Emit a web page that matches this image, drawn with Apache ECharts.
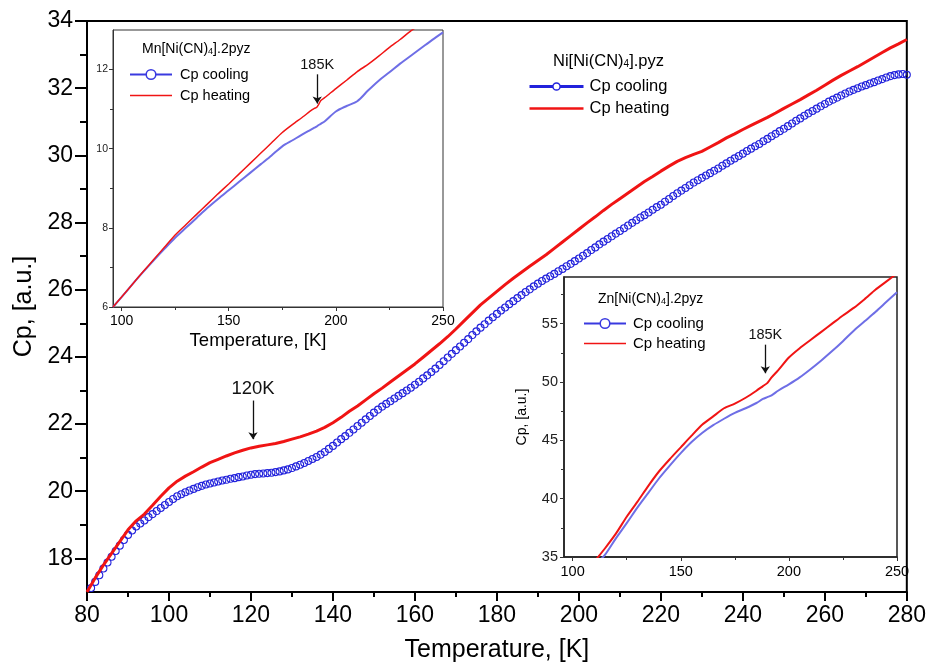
<!DOCTYPE html>
<html>
<head>
<meta charset="utf-8">
<script src="https://cdn.jsdelivr.net/npm/echarts@6/dist/echarts.min.js"></script>
<style>
  html, body { margin: 0; padding: 0; background: #fff; }
  #chart { width: 929px; height: 668px; }
</style>
</head>
<body>
<div id="chart"></div>
<script>
// ---- Ni[Ni(CN)4].pyz : main heat-capacity curves ----
// heating run, 2 K steps
const heatTemps = [80,82,84,86,88,90,92,94,96,98,100,102,104,106,108,110,112,114,116,118,120,122,124,126,128,130,132,134,136,138,140,142,144,146,148,150,152,154,156,158,160,162,164,166,168,170,172,174,176,178,180,182,184,186,188,190,192,194,196,198,200,202,204,206,208,210,212,214,216,218,220,222,224,226,228,230,232,234,236,238,240,242,244,246,248,250,252,254,256,258,260,262,264,266,268,270,272,274,276,278,280];
const mainHeating = [17.00,17.42,17.80,18.15,18.50,18.85,19.12,19.32,19.58,19.85,20.10,20.30,20.45,20.58,20.72,20.85,20.95,21.05,21.14,21.22,21.29,21.34,21.38,21.42,21.48,21.55,21.62,21.70,21.79,21.90,22.04,22.20,22.38,22.54,22.72,22.90,23.07,23.25,23.43,23.61,23.79,23.99,24.19,24.39,24.60,24.83,25.07,25.31,25.55,25.75,25.95,26.15,26.34,26.52,26.70,26.87,27.04,27.23,27.42,27.61,27.80,27.99,28.17,28.36,28.54,28.71,28.88,29.05,29.22,29.37,29.53,29.68,29.82,29.93,30.03,30.12,30.25,30.38,30.52,30.64,30.77,30.89,31.01,31.13,31.26,31.40,31.53,31.66,31.80,31.94,32.09,32.24,32.38,32.51,32.64,32.78,32.92,33.06,33.20,33.32,33.45];
// cooling run, 1 K steps
const coolTemps = [80,81,82,83,84,85,86,87,88,89,90,91,92,93,94,95,96,97,98,99,100,101,102,103,104,105,106,107,108,109,110,111,112,113,114,115,116,117,118,119,120,121,122,123,124,125,126,127,128,129,130,131,132,133,134,135,136,137,138,139,140,141,142,143,144,145,146,147,148,149,150,151,152,153,154,155,156,157,158,159,160,161,162,163,164,165,166,167,168,169,170,171,172,173,174,175,176,177,178,179,180,181,182,183,184,185,186,187,188,189,190,191,192,193,194,195,196,197,198,199,200,201,202,203,204,205,206,207,208,209,210,211,212,213,214,215,216,217,218,219,220,221,222,223,224,225,226,227,228,229,230,231,232,233,234,235,236,237,238,239,240,241,242,243,244,245,246,247,248,249,250,251,252,253,254,255,256,257,258,259,260,261,262,263,264,265,266,267,268,269,270,271,272,273,274,275,276,277,278,279,280];
const mainCooling = [16.95,17.12,17.30,17.50,17.70,17.88,18.05,18.22,18.38,18.55,18.70,18.83,18.95,19.04,19.13,19.23,19.32,19.41,19.50,19.59,19.68,19.77,19.85,19.91,19.97,20.02,20.07,20.12,20.16,20.20,20.23,20.26,20.29,20.32,20.34,20.37,20.39,20.42,20.44,20.47,20.49,20.51,20.52,20.53,20.54,20.55,20.57,20.59,20.62,20.65,20.69,20.74,20.79,20.84,20.90,20.96,21.02,21.09,21.17,21.26,21.35,21.45,21.55,21.64,21.74,21.84,21.94,22.04,22.14,22.24,22.34,22.43,22.52,22.60,22.68,22.76,22.84,22.92,23.00,23.08,23.17,23.26,23.36,23.45,23.55,23.65,23.76,23.87,23.98,24.09,24.20,24.31,24.42,24.53,24.65,24.76,24.87,24.97,25.08,25.18,25.28,25.38,25.47,25.57,25.66,25.75,25.84,25.93,26.01,26.10,26.18,26.26,26.33,26.40,26.47,26.55,26.62,26.70,26.77,26.85,26.93,27.01,27.09,27.18,27.26,27.35,27.43,27.51,27.59,27.67,27.75,27.83,27.91,27.99,28.07,28.15,28.22,28.30,28.38,28.46,28.53,28.62,28.70,28.79,28.87,28.95,29.03,29.11,29.19,29.26,29.33,29.40,29.47,29.54,29.61,29.69,29.76,29.84,29.91,29.98,30.05,30.13,30.20,30.27,30.34,30.42,30.49,30.57,30.64,30.72,30.79,30.87,30.95,31.03,31.10,31.18,31.25,31.32,31.39,31.46,31.53,31.60,31.66,31.72,31.78,31.84,31.90,31.95,32.00,32.05,32.09,32.14,32.18,32.23,32.27,32.32,32.36,32.39,32.41,32.42,32.40];
const mainYLabels = [18,20,22,24,26,28,30,32,34];
const mainYMinor = [19,21,23,25,27,29,31,33];

// ---- Mn[Ni(CN)4].2pyz inset ----
const mnTemps = [96,100,105,110,115,120,125,130,135,140,145,150,155,160,165,170,175,180,185,188,190,191,192,193,195,200,205,210,215,220,225,230,235,240,245,250];
const mnHeating = [6.00,6.25,6.57,6.89,7.20,7.51,7.82,8.08,8.34,8.60,8.86,9.11,9.37,9.63,9.89,10.15,10.41,10.62,10.82,10.95,11.02,11.04,11.12,11.22,11.30,11.52,11.73,11.95,12.13,12.34,12.56,12.76,12.98,13.15,13.35,13.55];
const mnCooling = [6.00,6.25,6.57,6.88,7.18,7.47,7.75,8.00,8.25,8.50,8.73,8.95,9.17,9.39,9.61,9.83,10.06,10.22,10.38,10.47,10.53,10.56,10.60,10.63,10.70,10.94,11.08,11.20,11.47,11.72,11.93,12.15,12.35,12.55,12.75,12.94];
const insetXLabels = [100,150,200,250];
const insetXMinor = [125,175,225];
const mnYLabels = [6,8,10,12];
const mnYMinor = [7,9,11];

// ---- Zn[Ni(CN)4].2pyz inset ----
const znTemps = [110,112,115,120,125,130,135,140,145,150,155,160,165,170,175,180,185,188,190,192,195,200,205,210,215,220,225,230,235,240,245,250];
const znHeating = [34.6,35.05,35.75,37.0,38.45,39.75,41.1,42.35,43.4,44.4,45.4,46.35,47.05,47.75,48.15,48.65,49.25,49.65,49.9,50.4,51.0,52.1,52.9,53.6,54.3,55.0,55.7,56.35,57.1,57.9,58.6,59.3];
const znCooling = [34.2,34.6,35.2,36.6,37.9,39.25,40.5,41.75,42.85,43.9,44.85,45.65,46.3,46.85,47.35,47.75,48.2,48.55,48.7,48.85,49.25,49.8,50.4,51.1,51.85,52.65,53.5,54.4,55.2,56.0,56.85,57.7];
const znYLabels = [35,40,45,50,55];
const znYMinor = [37.5,42.5,47.5,52.5,57.5];

const pairs = (xs, ys) => xs.map((x, i) => [x, ys[i]]);

const FONT = 'Liberation Sans, Arial, sans-serif';
const RED = '#f01414';
const BLUE = '#2222dc';
const BLUE_LIGHT = '#6e6ee6';
const BLUE_LEGEND = '#3a3ae0';

function arrowMark(x, yFrom, yTo, text, size) {
  return {
    silent: true,
    animation: false,
    symbol: ['none', 'arrow'],
    symbolSize: 7,
    lineStyle: { color: '#111', width: 1.3, type: 'solid' },
    label: { show: true, position: 'start', formatter: text, fontSize: size, color: '#111', fontFamily: FONT, distance: 2 },
    data: [[{ coord: [x, yFrom], symbol: 'none' }, { coord: [x, yTo], symbol: 'arrow', symbolSize: 7 }]]
  };
}

function valueAxis(extra) {
  return Object.assign({
    type: 'value',
    splitLine: { show: false },
    axisLine: { show: true, onZero: false, lineStyle: { color: '#000', width: 2 } },
    axisTick: { show: true, inside: false, lineStyle: { color: '#000', width: 2 } },
    axisLabel: { color: '#000', fontFamily: FONT }
  }, extra);
}

function richTitle(left, top, size, body) {
  const sub = Math.round(size * 0.62);
  return {
    text: body, left: left, top: top, z: 10,
    textStyle: { rich: {
      a: { fontSize: size, fontFamily: FONT, fontWeight: 'normal', color: '#000', lineHeight: size + 3, verticalAlign: 'bottom' },
      s: { fontSize: sub, fontFamily: FONT, fontWeight: 'normal', color: '#000', lineHeight: sub, verticalAlign: 'bottom' } } }
  };
}

const insetLine = { color: '#333', width: 1 };
const legendName = n => n.indexOf('cooling') >= 0 ? 'Cp cooling' : 'Cp heating';
const openCircle = color => ({ color: '#fff', borderColor: color, borderWidth: 1.5 });

const option = {
  backgroundColor: '#fff',
  animation: false,
  title: [
    richTitle(548, 45, 16.5, '{a|Ni[Ni(CN)}{s|4}{a|].pyz}'),
    richTitle(137, 34, 14, '{a|Mn[Ni(CN)}{s|4}{a|].2pyz}'),
    richTitle(593, 284, 14, '{a|Zn[Ni(CN)}{s|4}{a|].2pyz}')
  ],
  legend: [
    {
      orient: 'vertical', left: 523, top: 73, itemWidth: 54, itemHeight: 9, itemGap: 5,
      textStyle: { fontSize: 16.5, fontFamily: FONT, color: '#000', padding: [0, 0, 0, 1] },
      data: [
        { name: 'Cp cooling', lineStyle: { color: BLUE, width: 3, opacity: 1 }, itemStyle: openCircle(BLUE) },
        { name: 'Cp heating', icon: 'path://M0,0L60,0L60,3L0,3Z' }
      ]
    },
    {
      orient: 'vertical', left: 124, top: 62, itemWidth: 42, itemHeight: 12, itemGap: 6, z: 10,
      textStyle: { fontSize: 14.5, fontFamily: FONT, color: '#000', padding: [0, 0, 0, 3] },
      formatter: legendName,
      data: [
        { name: 'Mn cooling', itemStyle: openCircle(BLUE_LEGEND), lineStyle: { color: BLUE_LEGEND, width: 2 } },
        { name: 'Mn heating', icon: 'path://M0,0L60,0L60,2L0,2Z' }
      ]
    },
    {
      orient: 'vertical', left: 578, top: 311, itemWidth: 42, itemHeight: 12, itemGap: 5, z: 10,
      textStyle: { fontSize: 15, fontFamily: FONT, color: '#000', padding: [0, 0, 0, 2] },
      formatter: legendName,
      data: [
        { name: 'Zn cooling', itemStyle: openCircle(BLUE_LEGEND), lineStyle: { color: BLUE_LEGEND, width: 2 } },
        { name: 'Zn heating', icon: 'path://M0,0L60,0L60,2L0,2Z' }
      ]
    }
  ],
  grid: [
    { left: 87, top: 21, right: 19, bottom: 72, show: true, borderColor: '#000', borderWidth: 2, backgroundColor: '#fff' },
    { left: 113, top: 30, width: 330, height: 277, show: true, borderColor: '#333', borderWidth: 1, backgroundColor: '#fff', z: 5 },
    { left: 564, top: 277, width: 333, height: 280, show: true, borderColor: '#222', borderWidth: 1.5, backgroundColor: '#fff', z: 5 }
  ],
  xAxis: [
    valueAxis({
      gridIndex: 0, min: 80, max: 280, interval: 20, position: 'bottom',
      axisTick: { show: true, length: 9, lineStyle: { color: '#000', width: 2 } },
      minorTick: { show: true, splitNumber: 2, length: 5, lineStyle: { color: '#000', width: 2 } },
      axisLabel: { fontSize: 23, color: '#000', fontFamily: FONT, margin: 12 },
      name: 'Temperature, [K]', nameLocation: 'middle', nameGap: 46,
      nameTextStyle: { fontSize: 25, fontFamily: FONT, color: '#000' }
    }),
    // Mn inset
    valueAxis({
      gridIndex: 1, min: 96, max: 250, z: 6, position: 'bottom',
      axisLine: { show: true, lineStyle: insetLine },
      axisTick: { show: true, length: 4, customValues: insetXLabels, lineStyle: insetLine },
      axisLabel: { fontSize: 14, color: '#000', fontFamily: FONT, margin: 7, customValues: insetXLabels },
      name: 'Temperature, [K]', nameLocation: 'middle', nameGap: 24,
      nameTextStyle: { fontSize: 18.5, fontFamily: FONT, color: '#000', padding: [0, 40, 0, 0] }
    }),
    valueAxis({
      gridIndex: 1, min: 96, max: 250, z: 6, position: 'bottom',
      axisLine: { show: false },
      axisTick: { show: true, length: 3, customValues: insetXMinor, lineStyle: insetLine },
      axisLabel: { show: false }
    }),
    // Zn inset
    valueAxis({
      gridIndex: 2, min: 96, max: 250, z: 6, position: 'bottom',
      axisLine: { show: true, lineStyle: { color: '#222', width: 1.5 } },
      axisTick: { show: true, length: 4, customValues: insetXLabels, lineStyle: insetLine },
      axisLabel: { fontSize: 14.5, color: '#000', fontFamily: FONT, margin: 7, customValues: insetXLabels }
    }),
    valueAxis({
      gridIndex: 2, min: 96, max: 250, z: 6, position: 'bottom',
      axisLine: { show: false },
      axisTick: { show: true, length: 3, customValues: insetXMinor, lineStyle: insetLine },
      axisLabel: { show: false }
    })
  ],
  yAxis: [
    valueAxis({
      gridIndex: 0, min: 17, max: 34, position: 'left',
      axisTick: { show: true, length: 12, customValues: mainYLabels, lineStyle: { color: '#000', width: 2 } },
      axisLabel: { fontSize: 23, color: '#000', fontFamily: FONT, margin: 14, customValues: mainYLabels },
      name: 'Cp, [a.u.]', nameLocation: 'middle', nameGap: 50, nameRotate: 90,
      nameTextStyle: { fontSize: 25, fontFamily: FONT, color: '#000' }
    }),
    valueAxis({
      gridIndex: 0, min: 17, max: 34, position: 'left',
      axisLine: { show: false },
      axisTick: { show: true, length: 7, customValues: mainYMinor, lineStyle: { color: '#000', width: 2 } },
      axisLabel: { show: false }
    }),
    // Mn inset
    valueAxis({
      gridIndex: 1, min: 6, max: 13, z: 6, position: 'left',
      axisLine: { show: true, lineStyle: insetLine },
      axisTick: { show: true, length: 4, customValues: mnYLabels, lineStyle: insetLine },
      axisLabel: { fontSize: 10.5, color: '#222', fontFamily: FONT, margin: 5, customValues: mnYLabels }
    }),
    valueAxis({
      gridIndex: 1, min: 6, max: 13, z: 6, position: 'left',
      axisLine: { show: false },
      axisTick: { show: true, length: 3, customValues: mnYMinor, lineStyle: insetLine },
      axisLabel: { show: false }
    }),
    // Zn inset
    valueAxis({
      gridIndex: 2, min: 35, max: 59, z: 6, position: 'left',
      axisLine: { show: true, lineStyle: { color: '#222', width: 1.5 } },
      axisTick: { show: true, length: 4, customValues: znYLabels, lineStyle: insetLine },
      axisLabel: { fontSize: 14.5, color: '#222', fontFamily: FONT, margin: 6, customValues: znYLabels },
      name: 'Cp, [a.u.]', nameLocation: 'middle', nameGap: 35, nameRotate: 90,
      nameTextStyle: { fontSize: 14, fontFamily: FONT, color: '#000' }
    }),
    valueAxis({
      gridIndex: 2, min: 35, max: 59, z: 6, position: 'left',
      axisLine: { show: false },
      axisTick: { show: true, length: 3, customValues: znYMinor, lineStyle: insetLine },
      axisLabel: { show: false }
    })
  ],
  series: [
    {
      name: 'Cp cooling', type: 'line', xAxisIndex: 0, yAxisIndex: 0, z: 2,
      data: pairs(coolTemps, mainCooling),
      symbol: 'circle', symbolSize: 7, showSymbol: true, showAllSymbol: true,
      itemStyle: { color: 'rgba(0,0,0,0)', borderColor: BLUE, borderWidth: 1.1 },
      lineStyle: { color: BLUE, width: 0, opacity: 0 }
    },
    {
      name: 'Cp heating', type: 'line', xAxisIndex: 0, yAxisIndex: 0, z: 3,
      data: pairs(heatTemps, mainHeating),
      showSymbol: false, symbol: 'none',
      itemStyle: { color: RED },
      lineStyle: { color: RED, width: 3 },
      markLine: arrowMark(120.5, 22.7, 21.55, '120K', 18.5)
    },
    {
      name: 'Mn cooling', type: 'line', xAxisIndex: 1, yAxisIndex: 2, z: 7,
      data: pairs(mnTemps, mnCooling),
      symbol: 'circle', symbolSize: 9, showSymbol: false, smooth: 0.3,
      itemStyle: openCircle(BLUE_LIGHT),
      lineStyle: { color: BLUE_LIGHT, width: 2 }
    },
    {
      name: 'Mn heating', type: 'line', xAxisIndex: 1, yAxisIndex: 2, z: 8,
      data: pairs(mnTemps, mnHeating),
      showSymbol: false, symbol: 'none', smooth: 0.2,
      itemStyle: { color: RED },
      lineStyle: { color: RED, width: 1.5 },
      markLine: arrowMark(191.3, 11.88, 11.14, '185K', 14.5)
    },
    {
      name: 'Zn cooling', type: 'line', xAxisIndex: 3, yAxisIndex: 4, z: 7,
      data: pairs(znTemps, znCooling),
      symbol: 'circle', symbolSize: 9, showSymbol: false, smooth: 0.3,
      itemStyle: openCircle(BLUE_LIGHT),
      lineStyle: { color: BLUE_LIGHT, width: 2 }
    },
    {
      name: 'Zn heating', type: 'line', xAxisIndex: 3, yAxisIndex: 4, z: 8,
      data: pairs(znTemps, znHeating),
      showSymbol: false, symbol: 'none', smooth: 0.2,
      itemStyle: { color: RED },
      lineStyle: { color: RED, width: 2 },
      markLine: arrowMark(189.1, 53.2, 50.75, '185K', 14.5)
    }
  ]
};

const chart = echarts.init(document.getElementById('chart'), null, { renderer: 'canvas' });
chart.setOption(option);
</script>
</body>
</html>
